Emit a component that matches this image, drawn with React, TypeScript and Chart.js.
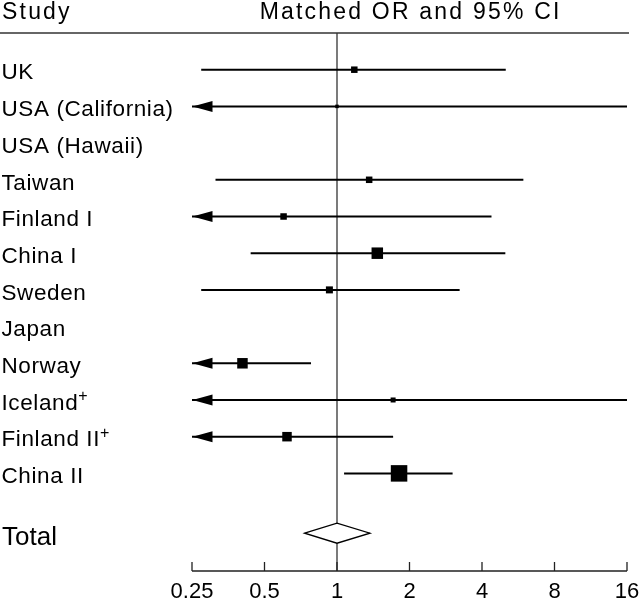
import React, { useEffect, useRef } from 'react';
import { Chart, registerables } from 'chart.js';

Chart.register(...registerables);

// ---- Data ----
const studies = [
  'UK',
  'USA (California)',
  'USA (Hawaii)',
  'Taiwan',
  'Finland I',
  'China I',
  'Sweden',
  'Japan',
  'Norway',
  'Iceland',
  'Finland II',
  'China II',
];
const studyNotes = ['', '', '', '', '', '', '', '', '', '+', '+', ''];
// matched odds ratios (null = not estimable)
const oddsRatios = [1.18, 1.0, null, 1.36, 0.6, 1.47, 0.93, null, 0.405, 1.71, 0.62, 1.81];
// lower 95% CI (values below 0.25 are off-scale, shown with an arrow)
const ciLower = [0.273, 0.2, null, 0.313, 0.2, 0.438, 0.273, null, 0.2, 0.2, 0.2, 1.07];
// upper 95% CI
const ciUpper = [5.02, 16, null, 5.94, 4.38, 5.0, 3.23, null, 0.78, 16, 1.71, 3.02];
// relative study weights (drives marker size)
const weights = [6.5, 3.5, null, 6.5, 6.5, 11.5, 7, null, 10.5, 5, 9.5, 16.5];

const totalLabel = 'Total';
const totalOR = 1.0;
const totalLower = 0.734;
const totalUpper = 1.37;

const xTickValues = [0.25, 0.5, 1, 2, 4, 8, 16];
const xTickLabels = ['0.25', '0.5', '1', '2', '4', '8', '16'];

const headerLeft = 'Study';
const headerRight = 'Matched OR and 95% CI';

// ---- Layout / style constants ----
const X_MIN = 0.25;
const X_MAX = 16;
const TOTAL_GAP = 0.63;
const FONT = '"Liberation Sans", Arial, Helvetica, sans-serif';
const INK = '#000';

function setSpacing(ctx: any, px: number) {
  ctx.letterSpacing = px + 'px';
}

const forestPlugin = {
  id: 'forestDecor',
  beforeDatasetsDraw(chart: any) {
    const { ctx, chartArea, scales } = chart;
    const x = scales.x;
    const x1 = x.getPixelForValue(1);
    ctx.save();
    // line of no effect
    ctx.strokeStyle = '#222';
    ctx.lineWidth = 1.2;
    ctx.beginPath();
    ctx.moveTo(x1, chartArea.top);
    ctx.lineTo(x1, chartArea.bottom);
    ctx.stroke();
    // header rule
    ctx.strokeStyle = '#333';
    ctx.lineWidth = 1.4;
    ctx.beginPath();
    ctx.moveTo(0, chartArea.top);
    ctx.lineTo(chart.width - 11, chartArea.top);
    ctx.stroke();
    ctx.restore();
  },
  afterDatasetsDraw(chart: any) {
    const { ctx, chartArea, scales } = chart;
    const x = scales.x;
    const y = scales.y;
    const xLeft = x.getPixelForValue(X_MIN);
    ctx.save();

    // arrows for off-scale lower limits
    ctx.fillStyle = INK;
    studies.forEach((_, i) => {
      const lo = ciLower[i];
      if (lo == null || lo >= X_MIN) return;
      const py = y.getPixelForValue(i);
      ctx.beginPath();
      ctx.moveTo(xLeft + 0.5, py);
      ctx.lineTo(xLeft + 20.5, py - 5.5);
      ctx.lineTo(xLeft + 20.5, py + 5.5);
      ctx.closePath();
      ctx.fill();
    });

    // total diamond
    const ty = y.getPixelForValue(studies.length + TOTAL_GAP);
    const dl = x.getPixelForValue(totalLower);
    const dm = x.getPixelForValue(totalOR);
    const dr = x.getPixelForValue(totalUpper);
    ctx.beginPath();
    ctx.moveTo(dl, ty);
    ctx.lineTo(dm, ty - 10);
    ctx.lineTo(dr, ty);
    ctx.lineTo(dm, ty + 10);
    ctx.closePath();
    ctx.fillStyle = '#fff';
    ctx.fill();
    ctx.strokeStyle = INK;
    ctx.lineWidth = 1.3;
    ctx.stroke();

    // x axis
    const ab = chartArea.bottom;
    ctx.strokeStyle = '#222';
    ctx.lineWidth = 1.3;
    ctx.beginPath();
    ctx.moveTo(x.getPixelForValue(X_MIN), ab);
    ctx.lineTo(x.getPixelForValue(X_MAX), ab);
    xTickValues.forEach((v) => {
      const px = x.getPixelForValue(v);
      ctx.moveTo(px, ab);
      ctx.lineTo(px, ab - 9);
    });
    ctx.stroke();

    ctx.fillStyle = INK;
    ctx.font = '22px ' + FONT;
    setSpacing(ctx, 0);
    ctx.textBaseline = 'alphabetic';
    ctx.textAlign = 'center';
    xTickValues.forEach((v, i) => {
      const px = x.getPixelForValue(v);
      ctx.fillText(xTickLabels[i], px, 598);
    });
    ctx.textAlign = 'left';

    // study labels
    studies.forEach((s, i) => {
      const py = y.getPixelForValue(i);
      const base = py + 9.8;
      ctx.font = '22.5px ' + FONT;
      setSpacing(ctx, 0.6);
      ctx.fillText(s, 1.5, base);
      if (studyNotes[i]) {
        const w = ctx.measureText(s).width;
        ctx.font = '16px ' + FONT;
        setSpacing(ctx, 0);
        ctx.fillText(studyNotes[i], 1.5 + w, base - 8.5);
      }
    });

    // total label
    ctx.font = '26px ' + FONT;
    setSpacing(ctx, 0);
    ctx.fillText(totalLabel, 2, ty + 11.3);

    // headers
    ctx.font = '23px ' + FONT;
    setSpacing(ctx, 2.2);
    ctx.fillText(headerLeft, 2, 18.8);
    const hw = ctx.measureText(headerRight).width - 2.2;
    const cx = (chartArea.left + chartArea.right) / 2;
    ctx.fillText(headerRight, cx - hw / 2, 19.3);
    setSpacing(ctx, 0);

    ctx.restore();
  },
};

export default function App() {
  const canvasRef = useRef<HTMLCanvasElement | null>(null);

  useEffect(() => {
    const canvas = canvasRef.current;
    if (!canvas) return;

    const markerData: any[] = [];
    const markerRadii: number[] = [];
    studies.forEach((_, i) => {
      const or = oddsRatios[i];
      const w = weights[i];
      if (or == null || w == null) return;
      markerData.push({ x: or, y: i });
      markerRadii.push(w / Math.SQRT2);
    });

    const ciDatasets: any[] = [];
    studies.forEach((_, i) => {
      const lo = ciLower[i];
      const hi = ciUpper[i];
      if (lo == null || hi == null) return;
      ciDatasets.push({
        label: studies[i] + ' CI',
        data: [
          { x: lo, y: i },
          { x: hi, y: i },
        ],
        showLine: true,
        borderColor: INK,
        borderWidth: 2,
        pointRadius: 0,
        pointHoverRadius: 0,
      });
    });

    const chart = new Chart(canvas, {
      type: 'scatter',
      data: {
        datasets: [
          {
            label: 'OR',
            data: markerData,
            pointStyle: 'rect',
            pointRadius: markerRadii,
            pointHoverRadius: markerRadii,
            backgroundColor: INK,
            borderColor: INK,
            pointBorderWidth: 0,
            borderWidth: 0,
          },
          ...ciDatasets,
        ],
      },
      options: {
        animation: false,
        responsive: false,
        events: [],
        layout: { padding: { left: 192, right: 13, top: 33, bottom: 28 } },
        plugins: {
          legend: { display: false },
          tooltip: { enabled: false },
        },
        scales: {
          x: {
            type: 'logarithmic',
            min: X_MIN,
            max: X_MAX,
            bounds: 'data',
            display: false,
          },
          y: {
            type: 'linear',
            min: -1,
            max: 13.66,
            reverse: true,
            bounds: 'data',
            display: false,
          },
        },
      },
      plugins: [forestPlugin],
    } as any);

    return () => chart.destroy();
  }, []);

  return (
    <div style={{ position: 'fixed', left: 0, top: 0, width: 640, height: 599, background: '#fff' }}>
      <canvas ref={canvasRef} width={640} height={599} style={{ display: 'block', width: 640, height: 599 }} />
    </div>
  );
}
